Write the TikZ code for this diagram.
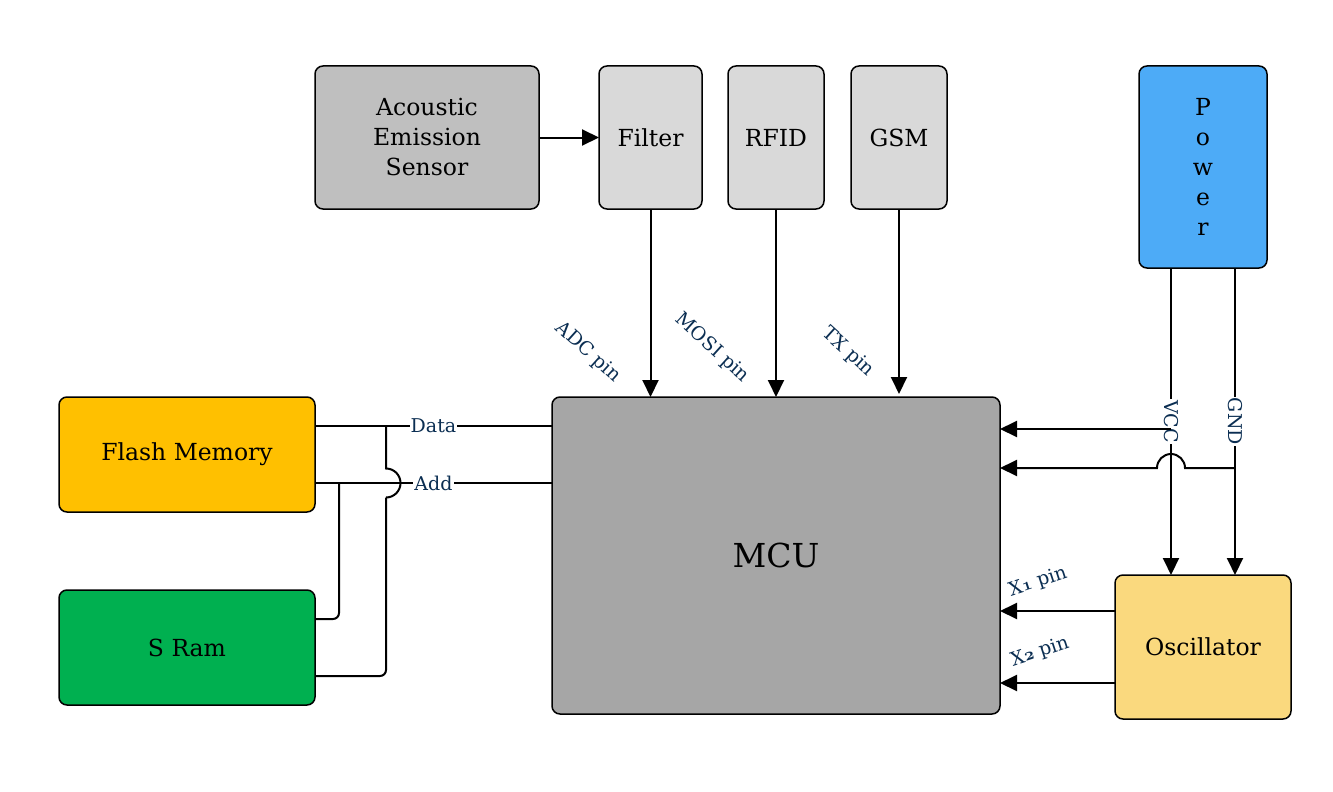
\documentclass[tikz,border=0pt]{standalone}
\usepackage{fontspec}
\setmainfont{DejaVu Serif}
\usetikzlibrary{arrows.meta}
\definecolor{aesc}{HTML}{BFBFBF}
\definecolor{lightg}{HTML}{D9D9D9}
\definecolor{powc}{HTML}{4DABF7}
\definecolor{flashc}{HTML}{FFC000}
\definecolor{sramc}{HTML}{00B050}
\definecolor{mcuc}{HTML}{A6A6A6}
\definecolor{oscc}{HTML}{FAD97E}
\definecolor{lblc}{HTML}{0B2E52}
\newcommand{\osn}[1]{{\fontencoding{OML}\fontfamily{cmm}\fontseries{b}\fontshape{it}\selectfont #1}}
\tikzset{
  box/.style={draw=black, line width=1.5pt, rounded corners=8pt, align=center,
    font=\fontsize{23.5}{30}\selectfont, inner sep=0pt, outer sep=0pt},
  conn/.style={line width=2pt},
  arr/.style={line width=2pt, -{Triangle[length=17pt,width=16pt]}},
  lbl/.style={text=lblc, font=\fontsize{19}{22}\selectfont, inner sep=1pt},
}
\begin{document}
\begin{tikzpicture}[x=1pt,y=-1pt]
\useasboundingbox (0,0) rectangle (1333,792);
% nodes
\node[box, fill=aesc, minimum width=224pt, minimum height=143pt] (aes) at (427,137.5) {Acoustic\\Emission\\Sensor};
\node[box, fill=lightg, minimum width=103pt, minimum height=143pt] (filter) at (650.5,137.5) {Filter};
\node[box, fill=lightg, minimum width=96pt, minimum height=143pt] (rfid) at (776,137.5) {RFID};
\node[box, fill=lightg, minimum width=96pt, minimum height=143pt] (gsm) at (899,137.5) {GSM};
\node[box, fill=powc, minimum width=128pt, minimum height=202pt] (power) at (1203,167) {P\\o\\w\\e\\r};
\node[box, fill=flashc, minimum width=256pt, minimum height=115pt] (flash) at (187,454.5) {Flash Memory};
\node[box, fill=sramc, minimum width=256pt, minimum height=115pt] (sram) at (187,647.5) {S Ram};
\node[box, fill=mcuc, minimum width=448pt, minimum height=317pt, font=\fontsize{33}{40}\selectfont] (mcu) at (776,555.5) {MCU};
\node[box, fill=oscc, minimum width=176pt, minimum height=144pt] (osc) at (1203,647) {Oscillator};

% top arrows
\draw[arr] (aes.east) -- (filter.west);
\draw[arr] (filter.south) -- (filter.south |- mcu.north);
\draw[arr] (rfid.south) -- (rfid.south |- mcu.north);
\draw[arr] (gsm.south) -- ([yshift=3pt]gsm.south |- mcu.north);
\node[lbl, rotate=-42] (adc) at (588,352) {ADC pin};
\node[lbl, rotate=-42] (mosi) at (712,348) {MOSI pin};
\node[lbl, rotate=-42] (tx) at (848,352) {TX pin};

% power lines
\coordinate (vccT) at ([xshift=32pt]power.south west);
\coordinate (gndT) at ([xshift=-32pt]power.south east);
\draw[arr] (vccT) -- node[lbl, rotate=-90, fill=white] (vccl) {VCC} (vccT |- osc.north);
\draw[arr] (gndT) -- node[lbl, rotate=-90, fill=white] (gndl) {GND} (gndT |- osc.north);
\coordinate (vccJ) at (vccT |- 0,429);
\coordinate (gndJ) at (gndT |- 0,468);
\draw[arr] (vccJ) -- (mcu.east |- vccJ);
\draw[arr] (gndJ) -- ([xshift=14pt]vccT |- gndJ) arc[start angle=0, end angle=180, radius=14pt] -- (mcu.east |- gndJ);

% oscillator
\draw[arr] ([yshift=-36pt]osc.north west) -- (mcu.east |- 0,611);
\draw[arr] ([yshift=36pt]osc.south west) -- (mcu.east |- 0,683);
\node[lbl, rotate=18] (x1) at (1038,582) {X\osn{1} pin};
\node[lbl, rotate=18] (x2) at (1040,652) {X\osn{2} pin};

% memory buses
\coordinate (dataL) at ([yshift=-29pt]flash.north east);
\coordinate (addL) at ([yshift=29pt]flash.south east);
\draw[conn] (dataL) -- node[lbl, fill=white, pos=0.5] (datal) {Data} (mcu.west |- dataL);
\draw[conn] (addL) -- node[lbl, fill=white, pos=0.5] (addl) {Add} (mcu.west |- addL);
\coordinate (s1) at ([yshift=-29pt]sram.north east);
\coordinate (s2) at ([yshift=29pt]sram.south east);
\coordinate (jA) at (339,0 |- addL);
\coordinate (jD) at (386,0 |- dataL);
\coordinate (jX) at (386,0 |- addL);
\draw[conn, rounded corners=6pt] (s1) -- (jA |- s1) -- (jA);
\draw[conn] (jD) -- ([yshift=14.5pt]jX) arc[start angle=90, end angle=-90, radius=14.5pt];
\draw[conn, rounded corners=6pt] ([yshift=-14.5pt]jX) -- (jX |- s2) -- (s2);
\end{tikzpicture}
\end{document}
